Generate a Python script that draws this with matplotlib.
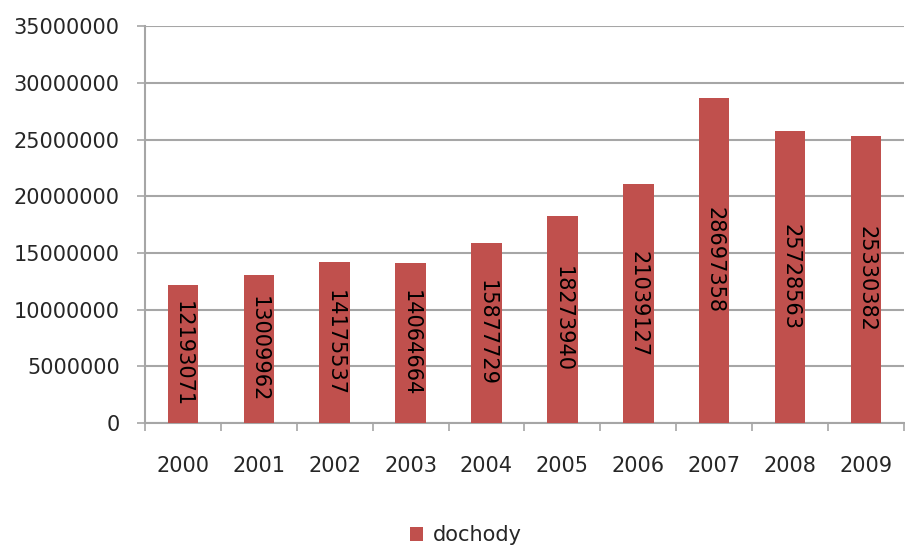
import matplotlib.pyplot as plt
from matplotlib.patches import Patch
import numpy as np

# Data
years = ['2000', '2001', '2002', '2003', '2004', '2005', '2006', '2007', '2008', '2009']
dochody = [12193071, 13009962, 14175537, 14064664, 15877729,
           18273940, 21039127, 28697358, 25728563, 25330382]
y_ticks = [0, 5000000, 10000000, 15000000, 20000000, 25000000, 30000000, 35000000]

BAR_COLOR = '#C0504D'
GRID_COLOR = '#A6A6A6'
TEXT_COLOR = '#262626'
FONT_SIZE = 15


def main():
    plt.rcParams['font.family'] = ['DejaVu Sans']
    fig = plt.figure(figsize=(9.05, 5.45), dpi=100)
    ax = fig.add_axes([0.160, 0.224, 0.839, 0.728])

    x = np.arange(len(years))
    ax.bar(x, dochody, width=0.4, color=BAR_COLOR, zorder=3)

    # Rotated value labels centred inside each bar
    for xi, v in zip(x, dochody):
        ax.text(xi, v / 2, str(v), rotation=270, ha='center', va='center',
                fontsize=FONT_SIZE, color='black', zorder=4)

    ax.set_xlim(-0.5, len(years) - 0.5)
    ax.set_ylim(0, 35000000)
    ax.set_yticks(y_ticks)
    ax.set_yticklabels([str(t) for t in y_ticks])
    ax.yaxis.grid(True, color=GRID_COLOR, linewidth=1.5, zorder=0)

    ax.set_xticks(x)
    ax.set_xticklabels(years)
    ax.set_xticks(np.arange(-0.5, len(years)), minor=True)
    ax.tick_params(axis='x', which='major', length=0, pad=24,
                   labelsize=FONT_SIZE, colors=TEXT_COLOR)
    ax.tick_params(axis='x', which='minor', length=6, width=1.2,
                   color=GRID_COLOR, direction='out')
    ax.tick_params(axis='y', length=6, width=1.2, color=GRID_COLOR,
                   pad=12, labelsize=FONT_SIZE, labelcolor=TEXT_COLOR)

    for side in ['top', 'right']:
        ax.spines[side].set_visible(False)
    for side in ['left', 'bottom']:
        ax.spines[side].set_color(GRID_COLOR)
        ax.spines[side].set_linewidth(1.5)

    handle = Patch(facecolor=BAR_COLOR, label='dochody')
    fig.legend(handles=[handle], loc='lower center', bbox_to_anchor=(0.515, -0.035),
               frameon=False, fontsize=FONT_SIZE, handlelength=0.6, handleheight=0.6,
               handletextpad=0.5, labelcolor=TEXT_COLOR)

    fig.savefig('out.png', dpi=100)


if __name__ == '__main__':
    main()
